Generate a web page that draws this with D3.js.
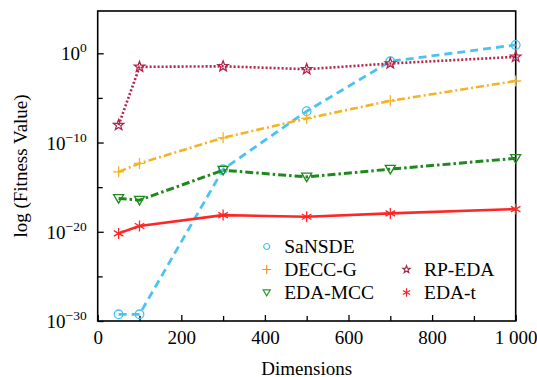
<!DOCTYPE html>
<html><head><meta charset="utf-8">
<script src="https://cdn.jsdelivr.net/npm/d3@7"></script>
</head>
<body style="margin:0;background:#fff">
<svg id="chart" width="537" height="377" style="display:block"></svg>
<script>
const dimensions = [50, 100, 300, 500, 700, 1000];
const sansde  = [5.6e-30, 5.6e-30, 1.0e-13, 3.2e-7, 0.126, 8.7];
const deccg   = [5.2e-14, 4.6e-13, 3.4e-10, 5.0e-8, 4.7e-6, 7.9e-4];
const edamcc  = [5.5e-17, 3.5e-17, 7.9e-14, 1.4e-14, 1.05e-13, 1.7e-12];
const rpeda   = [8.9e-9, 0.030, 0.035, 0.0166, 0.072, 0.40];
const edat    = [6.6e-21, 4.4e-20, 7.4e-19, 4.8e-19, 1.15e-18, 3.5e-18];
const xTickValues = [0, 200, 400, 600, 800, 1000];
const xTickLabels = ["0", "200", "400", "600", "800", "1 000"];
const xMinorTicks = [100, 300, 500, 700, 900];
const yTickExponents = [0, -10, -20, -30];
const yMinorExponents = [-5, -15, -25];

const FONT = '"Liberation Serif"';

const series = [
  {name:"SaNSDE", values:sansde, color:"#4cc2f0", legendColor:"#4cc2f0", dash:"8,5", marker:"circle", width:2.8},
  {name:"DECC-G", values:deccg, color:"#f5b324", legendColor:"#f0902a", dash:"8,3,2,3", marker:"plus", width:2.6},
  {name:"EDA-MCC", values:edamcc, color:"#1e8a1e", legendColor:"#2e9a2e", dash:"8,3,2.5,3", marker:"tri", width:3},
  {name:"RP-EDA", values:rpeda, color:"#b3234a", legendColor:"#9a2a48", dash:"2,2", marker:"star", width:2.6},
  {name:"EDA-t", values:edat, color:"#ff2626", legendColor:"#ff2626", dash:null, marker:"aster", width:2.6}
];

const svg = d3.select("#chart");
const L = 97.7, R = 515.7, T = 11, B = 321;
const x = d3.scaleLinear().domain([0, 1000]).range([L, R]);
const y = d3.scaleLog().domain([1e-30, Math.pow(10, 4.74)]).range([B, T]);

function markerPath(type, s) {
  const p = d3.path();
  if (type === "circle") {
    p.arc(0, 0, s, 0, 2 * Math.PI);
  } else if (type === "plus") {
    p.moveTo(-s, 0); p.lineTo(s, 0); p.moveTo(0, -s); p.lineTo(0, s);
  } else if (type === "tri") {
    p.moveTo(-s, -s * 0.75); p.lineTo(s, -s * 0.75); p.lineTo(0, s * 0.95); p.closePath();
  } else if (type === "star") {
    for (let i = 0; i < 10; i++) {
      const r = i % 2 === 0 ? s : s * 0.42;
      const a = -Math.PI / 2 + i * Math.PI / 5;
      if (i === 0) p.moveTo(r * Math.cos(a), r * Math.sin(a)); else p.lineTo(r * Math.cos(a), r * Math.sin(a));
    }
    p.closePath();
  } else if (type === "aster") {
    for (let i = 0; i < 3; i++) {
      const a = Math.PI / 2 + i * Math.PI / 3;
      p.moveTo(s * Math.cos(a), s * Math.sin(a));
      p.lineTo(-s * Math.cos(a), -s * Math.sin(a));
    }
  }
  return p.toString();
}
const markerSize = {circle:4.3, plus:5.5, tri:5, star:5.5, aster:5.5};
const legendSize = {circle:3, plus:4.5, tri:3.6, star:3.8, aster:4.2};

const g = svg.append("g");

// x ticks (inward)
const xAxis = d3.axisBottom(x).tickValues(xTickValues).tickSize(-6).tickPadding(10)
  .tickFormat((d, i) => xTickLabels[i]);
const xa = g.append("g").attr("transform", `translate(0,${B})`).call(xAxis);
xa.attr("font-family", null);
xa.select(".domain").remove();
xa.selectAll(".tick line").attr("stroke", "#000").attr("stroke-width", 1.3);
xa.selectAll(".tick text").attr("font-size", 19).style("font-family", FONT).attr("fill", "#000").attr("dy", "0.71em");
const xMinor = d3.axisBottom(x).tickValues(xMinorTicks).tickSize(-5).tickFormat("");
const xm = g.append("g").attr("transform", `translate(0,${B})`).call(xMinor);
xm.select(".domain").remove();
xm.selectAll(".tick line").attr("stroke", "#000").attr("stroke-width", 1.3);

// y ticks (inward)
const yAxis = d3.axisLeft(y).tickValues(yTickExponents.map(e => Math.pow(10, e))).tickSize(-6).tickFormat("");
const ya = g.append("g").attr("transform", `translate(${L},0)`).call(yAxis);
ya.select(".domain").remove();
ya.selectAll(".tick line").attr("stroke", "#000").attr("stroke-width", 1.3);
const yMinor = d3.axisLeft(y).tickValues(yMinorExponents.map(e => Math.pow(10, e))).tickSize(-5).tickFormat("");
const ym = g.append("g").attr("transform", `translate(${L},0)`).call(yMinor);
ym.select(".domain").remove();
ym.selectAll(".tick line").attr("stroke", "#000").attr("stroke-width", 1.3);

// y tick labels with superscripts
yTickExponents.forEach(e => {
  const t = g.append("text").attr("x", L - 11).attr("y", y(Math.pow(10, e)) + 7)
    .attr("text-anchor", "end").style("font-family", FONT);
  t.append("tspan").attr("font-size", 19).text("10");
  t.append("tspan").attr("font-size", 13.5).attr("dy", -8).text(e === 0 ? "0" : "\u2212" + Math.abs(e));
});

// frame
g.append("rect").attr("x", L).attr("y", T).attr("width", R - L).attr("height", B - T)
  .attr("fill", "none").attr("stroke", "#000").attr("stroke-width", 1.6);

// lines and markers
const line = d3.line().x((d, i) => x(dimensions[i])).y(d => y(d));
series.forEach(s => {
  const path = svg.append("path").datum(s.values).attr("d", line)
    .attr("fill", "none").attr("stroke", s.color).attr("stroke-width", s.width)
    .attr("stroke-linejoin", "round");
  if (s.dash) path.attr("stroke-dasharray", s.dash);
  svg.append("g").selectAll("path").data(s.values).join("path")
    .attr("transform", (d, i) => `translate(${x(dimensions[i])},${y(d)})`)
    .attr("d", markerPath(s.marker, markerSize[s.marker]))
    .attr("fill", "none").attr("stroke", s.color).attr("stroke-width", 1.3);
});

// legend
const legendPos = [
  {name:"SaNSDE", col:0, row:0},
  {name:"DECC-G", col:0, row:1},
  {name:"EDA-MCC", col:0, row:2},
  {name:"RP-EDA", col:1, row:1},
  {name:"EDA-t", col:1, row:2}
];
const lg = svg.append("g");
legendPos.forEach(lp => {
  const s = series.find(d => d.name === lp.name);
  const mx = lp.col === 0 ? 266.7 : 406.5;
  const my = 246.5 + lp.row * 23;
  lg.append("path").attr("transform", `translate(${mx},${my})`)
    .attr("d", markerPath(s.marker, legendSize[s.marker]))
    .attr("fill", "none").attr("stroke", s.legendColor).attr("stroke-width", 1.2);
  lg.append("text").attr("x", mx + 17.5).attr("y", my + 6.7).attr("font-size", 19.5)
    .style("font-family", FONT).text(s.name);
});

// axis titles
svg.append("text").attr("x", (L + R) / 2).attr("y", 374.5).attr("text-anchor", "middle")
  .attr("font-size", 19).style("font-family", FONT).text("Dimensions");
svg.append("text").attr("transform", `translate(26.5,${(T + B) / 2}) rotate(-90)`)
  .attr("text-anchor", "middle").attr("font-size", 19).style("font-family", FONT).text("log (Fitness Value)");
</script>
</body></html>
